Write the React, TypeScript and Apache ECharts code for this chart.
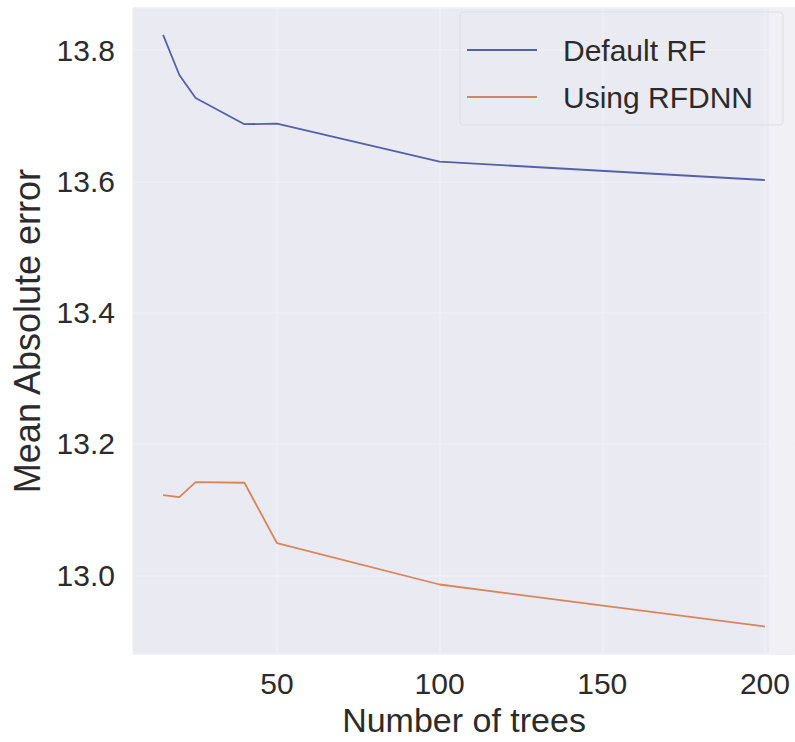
import React, { useEffect, useRef } from "react";
import * as echarts from "echarts";

const trees = [15, 20, 25, 40, 50, 100, 200];
const defaultRF = [13.823, 13.762, 13.727, 13.687, 13.688, 13.63, 13.602];
const usingRFDNN = [13.122, 13.119, 13.142, 13.141, 13.049, 12.986, 12.922];
const seriesNames = ["Default RF", "Using RFDNN"];
const xTickStep = 50;
const yTickStep = 0.2;

const FONT = "'Liberation Sans', Arial, Helvetica, sans-serif";
const TEXT = "#2b2b2b";

export default function App() {
  const ref = useRef<HTMLDivElement>(null);
  useEffect(() => {
    if (!ref.current) return;
    const chart = echarts.init(ref.current, undefined, { renderer: "svg" });
    const isMult = (v: number, s: number) => Math.abs(v / s - Math.round(v / s)) < 1e-6;
    chart.setOption({
      animation: false,
      backgroundColor: "#ffffff",
      textStyle: { fontFamily: FONT },
      grid: {
        left: 133,
        top: 8,
        width: 663,
        height: 647,
        show: true,
        backgroundColor: "#EAEAF2",
        borderWidth: 0,
      },
      legend: {
        data: seriesNames,
        orient: "vertical",
        left: 467,
        top: 35,
        icon: "rect",
        itemWidth: 70,
        itemHeight: 2,
        itemGap: 17,
        padding: 0,
        textStyle: { fontSize: 30, color: TEXT, fontFamily: FONT, padding: [0, 0, 0, 21] },
      },
      xAxis: {
        type: "value",
        min: 5.75,
        max: 209.25,
        splitNumber: 4,
        axisLine: { show: false },
        axisTick: { show: false },
        axisLabel: {
          fontSize: 30,
          color: TEXT,
          margin: 14,
          fontFamily: FONT,
          showMinLabel: false,
          showMaxLabel: false,
          formatter: (v: number) => (isMult(v, xTickStep) ? String(v) : ""),
        },
        splitLine: { show: true, lineStyle: { color: "#EFEFF5", width: 1.5 } },
        name: "Number of trees",
        nameLocation: "middle",
        nameGap: 40,
        nameTextStyle: { fontSize: 34, color: TEXT, fontFamily: FONT },
      },
      yAxis: {
        type: "value",
        min: 12.88,
        max: 13.864,
        splitNumber: 5,
        axisLine: { show: false },
        axisTick: { show: false },
        axisLabel: {
          fontSize: 30,
          color: TEXT,
          margin: 18,
          fontFamily: FONT,
          showMinLabel: false,
          showMaxLabel: false,
          formatter: (v: number) => (isMult(v, yTickStep) ? v.toFixed(1) : ""),
        },
        splitLine: { show: true, lineStyle: { color: "#EFEFF5", width: 1.5 } },
        name: "Mean Absolute error",
        nameLocation: "middle",
        nameGap: 80,
        nameTextStyle: { fontSize: 36, color: TEXT, fontFamily: FONT },
      },
      graphic: [
        {
          type: "rect",
          shape: { x: 769, y: 8, width: 27, height: 647 },
          style: { fill: "#F1F1F5" },
          z: 0,
        },
        {
          type: "rect",
          shape: { x: 460, y: 12, width: 323, height: 113, r: 4 },
          style: { fill: "none", stroke: "#DEDEE4", lineWidth: 1.2 },
          z: 1,
        },
      ],
      series: [
        {
          name: seriesNames[0],
          type: "line",
          data: trees.map((t, i) => [t, defaultRF[i]]),
          symbol: "none",
          color: "#5560A8",
          lineStyle: { width: 1.8, color: "#5560A8" },
        },
        {
          name: seriesNames[1],
          type: "line",
          data: trees.map((t, i) => [t, usingRFDNN[i]]),
          symbol: "none",
          color: "#D9845A",
          lineStyle: { width: 1.8, color: "#D9845A" },
        },
      ],
    });
    return () => chart.dispose();
  }, []);
  return (
    <div
      ref={ref}
      style={{ position: "absolute", left: 0, top: 0, width: 795, height: 742 }}
    />
  );
}
